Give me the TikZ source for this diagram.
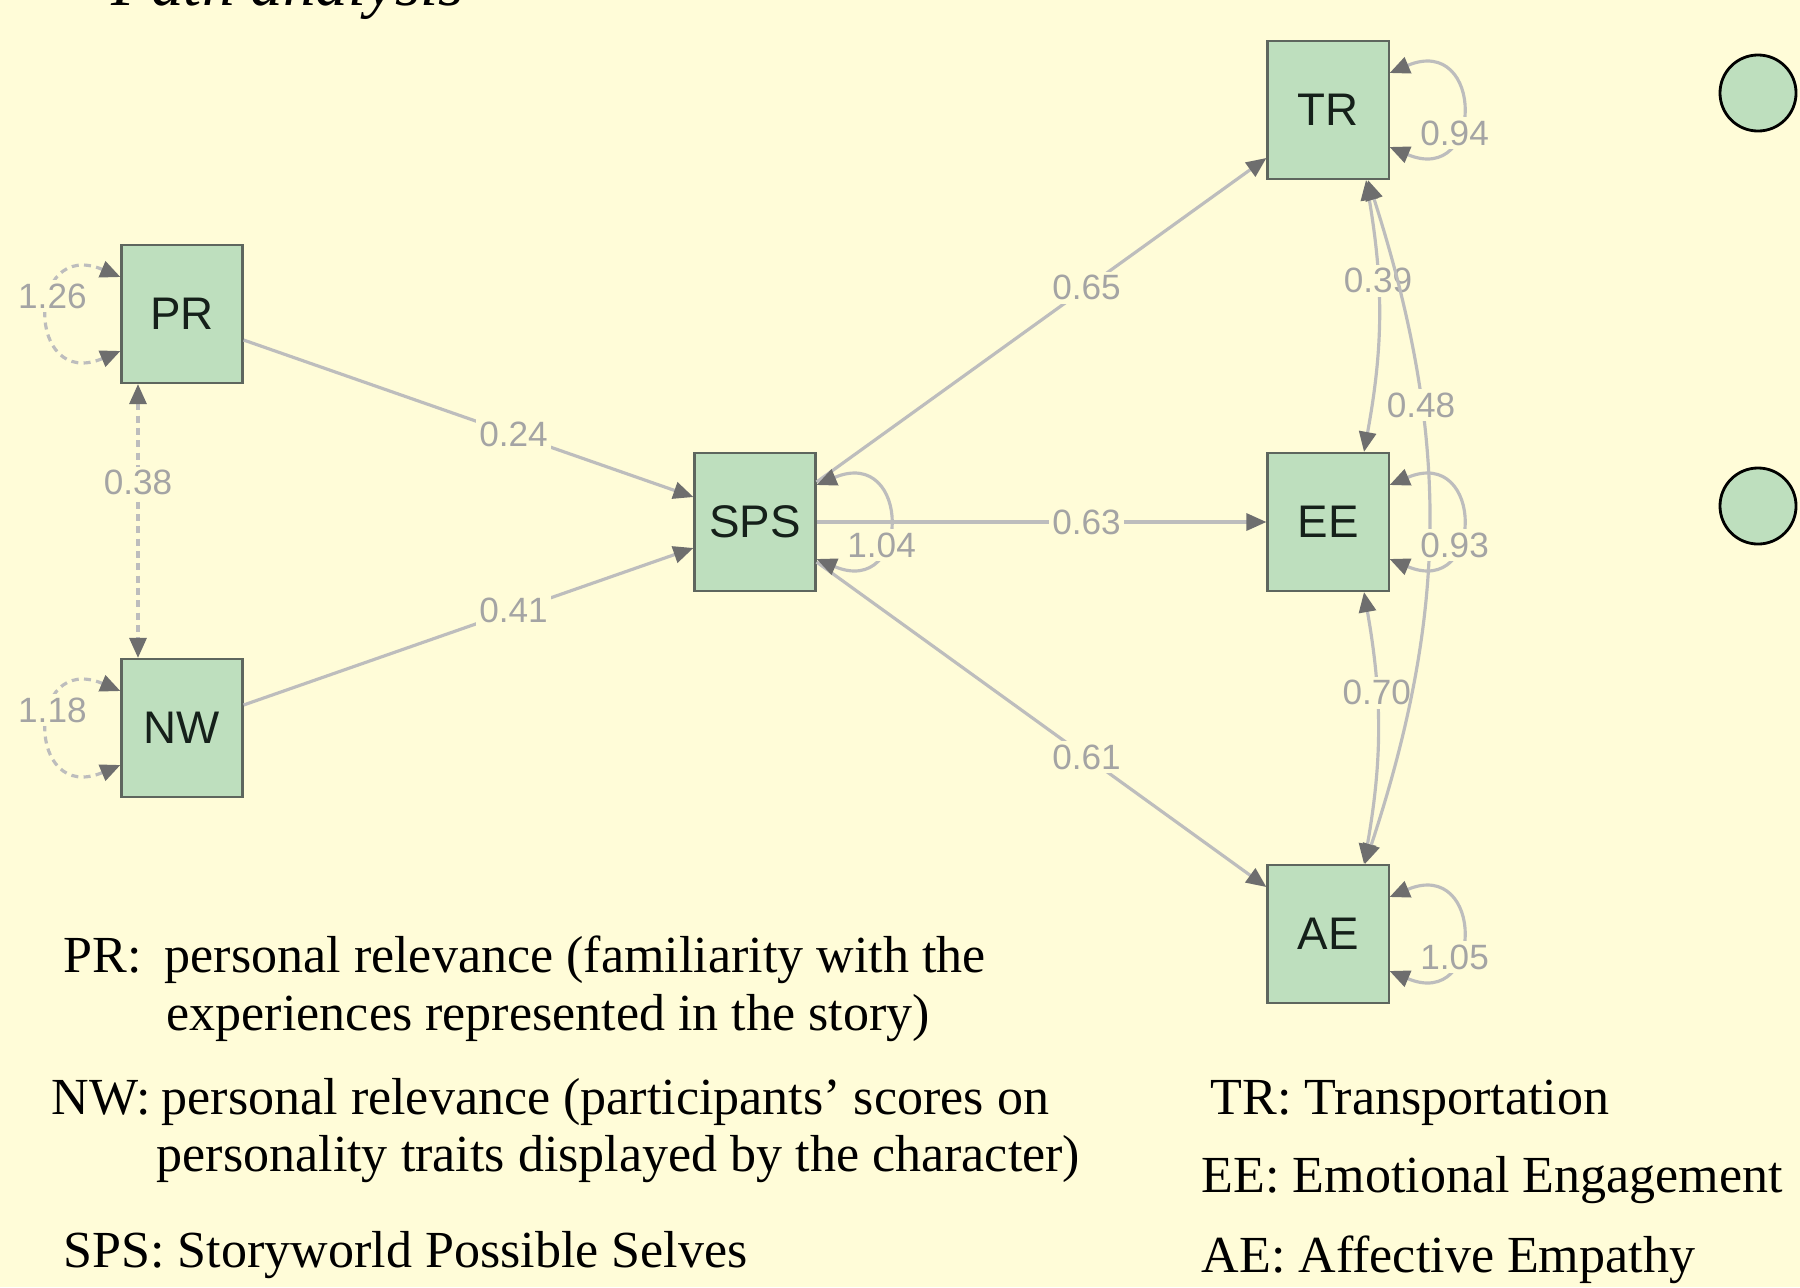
\documentclass[tikz,border=0pt]{standalone}
\usepackage{fontspec}
\setmainfont{Liberation Serif}
\newfontfamily\amosfont{Liberation Sans}
\usetikzlibrary{positioning, arrows.meta, calc}
\definecolor{slideBg}{HTML}{FFFCD8}
\definecolor{varGreen}{HTML}{BEDFBE}
\definecolor{varEdge}{HTML}{5E665E}
\definecolor{varInk}{HTML}{15201A}
\definecolor{lineGray}{HTML}{BDBDBD}
\definecolor{tipGray}{HTML}{6E6E6E}
\definecolor{coefGray}{HTML}{A4A4A4}
\tikzset{
  var/.style={draw=varEdge, line width=0.6pt, fill=varGreen, minimum width=1.21cm,
              minimum height=1.38cm, inner sep=0pt, text=varInk,
              font=\amosfont\fontsize{13}{13}\selectfont},
  coef/.style={fill=slideBg, inner sep=1pt, text=coefGray,
               font=\amosfont\fontsize{10}{10}\selectfont},
  reg/.style={draw=lineGray, line width=0.9pt, -{Triangle[length=0.2cm, width=0.17cm, color=tipGray]}},
  cov/.style={draw=lineGray, line width=0.9pt,
              {Triangle[length=0.2cm, width=0.17cm, color=tipGray]}-{Triangle[length=0.2cm, width=0.17cm, color=tipGray]}},
  dots/.style={dash pattern=on 2pt off 1.5pt},
  bullet/.style={circle, draw=black, line width=0.8pt, fill=varGreen, minimum size=0.76cm, inner sep=0pt},
  legtxt/.style={anchor=base west, inner sep=0pt, font=\fontsize{14.8}{16.5}\selectfont}
}
% variance loops on the right or left side of a box
\newcommand{\residright}[3]{%
  \draw[cov] ($(#1.east)+(0,-37)$) .. controls +(95,-40) and +(95,40) .. ($(#1.east)+(0,37)$);
  \node[coef] (#3) at ($(#1.east)+(65,23)$) {#2};
}
\newcommand{\residleft}[3]{%
  \draw[cov, dots] ($(#1.west)+(0,-37)$) .. controls +(-95,-40) and +(-95,40) .. ($(#1.west)+(0,37)$);
  \node[coef] (#3) at ($(#1.west)+(-68,-18)$) {#2};
}
\begin{document}
\begin{tikzpicture}[x=0.01cm, y=-0.01cm]
  \fill[slideBg] (0,0) rectangle (1800,1287);
  \useasboundingbox (0,0) rectangle (1800,1287);

  \node[anchor=base west, inner sep=0pt, font=\fontsize{18.5}{20}\selectfont\itshape] (title) at (111,5) {Path analysis};

  % boxes
  \node[var] (PR) at (182,314) {PR};
  \node[var] (NW) at (182,728) {NW};
  \node[var] (SPS) at (755,522) {SPS};
  \node[var] (TR) at (1328,110) {TR};
  \node[var] (EE) at (1328,522) {EE};
  \node[var] (AE) at (1328,934) {AE};

  \node[bullet] (b1) at (1758,93) {};
  \node[bullet] (b2) at (1758,506) {};

  % paths
  \draw[reg] ($(PR.east)+(0,26)$) -- node[coef, pos=0.6] (c24) {0.24} ($(SPS.west)+(0,-25)$);
  \draw[reg] ($(NW.east)+(0,-23)$) -- node[coef, pos=0.6] (c41) {0.41} ($(SPS.west)+(0,26)$);
  \draw[reg] ($(SPS.east)+(0,-40)$) -- node[coef, pos=0.6] (c65) {0.65} ($(TR.west)+(0,48)$);
  \draw[reg] (SPS.east) -- node[coef, pos=0.6] (c63) {0.63} (EE.west);
  \draw[reg] ($(SPS.east)+(0,40)$) -- node[coef, pos=0.6] (c61) {0.61} ($(AE.west)+(0,-47)$);

  % covariances
  \draw[cov, dots] ($(PR.south)+(-44,0)$) -- node[coef, pos=0.36] (c38) {0.38} ($(NW.north)+(-44,0)$);
  \draw[cov] ($(TR.south)+(38,0)$) to[bend left=10] node[coef, pos=0.36] (c39) {0.39} ($(EE.north)+(36,0)$);
  \draw[cov] ($(EE.south)+(36,0)$) to[bend left=10] node[coef, pos=0.36] (c70) {0.70} ($(AE.north)+(36,0)$);
  \draw[cov] ($(TR.south)+(40,0)$) to[bend left=18] node[coef, pos=0.32] (c48) {0.48} ($(AE.north)+(37,0)$);

  % variances
  \residleft{PR}{1.26}{v126}
  \residleft{NW}{1.18}{v118}
  \residright{SPS}{1.04}{v104}
  \residright{TR}{0.94}{v094}
  \residright{EE}{0.93}{v093}
  \residright{AE}{1.05}{v105}

  % legend
  \node[legtxt] (kPR) at (63,972) {PR:};
  \node[legtxt] (tPR) at (164,972) {personal relevance (familiarity with the};
  \node[legtxt] (tPR2) at (166,1030) {experiences represented in the story)};
  \node[legtxt] (kNW) at (51,1114) {NW:};
  \node[legtxt] (tNW) at (161,1114) {personal relevance (participants’ scores on};
  \node[legtxt] (tNW2) at (156,1171) {personality traits displayed by the character)};
  \node[legtxt] (kSPS) at (63,1267) {SPS: Storyworld Possible Selves};
  \node[legtxt] (kTR) at (1210,1114) {TR: Transportation};
  \node[legtxt] (kEE) at (1201,1192) {EE: Emotional Engagement};
  \node[legtxt] (kAE) at (1201,1272) {AE: Affective Empathy};
\end{tikzpicture}
\end{document}
